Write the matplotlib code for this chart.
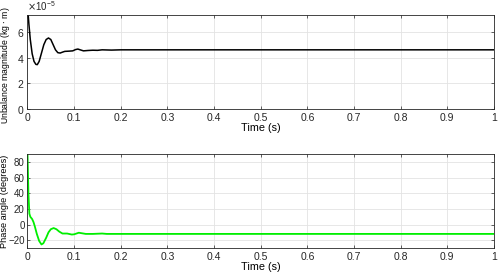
import matplotlib
matplotlib.use("Agg")
import matplotlib.pyplot as plt
from matplotlib.ticker import ScalarFormatter

plt.rcParams['font.family'] = ['Liberation Sans', 'DejaVu Sans']
plt.rcParams['font.size'] = 7.5

# unbalance magnitude (kg m) vs time (s)
t_mag = [0.0, 0.003, 0.006, 0.01, 0.014, 0.018, 0.021, 0.025, 0.03, 0.035,
         0.04, 0.045, 0.05, 0.055, 0.06, 0.065, 0.07, 0.075, 0.08, 0.09,
         0.097, 0.103, 0.108, 0.113, 0.12, 0.13, 0.14, 0.15, 0.16, 0.18,
         0.2, 0.25, 0.3, 0.4, 0.5, 0.6, 0.7, 0.8, 0.9, 1.0]
mag = [8.0, 6.6, 5.4, 4.3, 3.7, 3.47, 3.45, 3.7, 4.35, 5.0,
       5.4, 5.52, 5.4, 5.0, 4.6, 4.38, 4.35, 4.42, 4.48, 4.5,
       4.52, 4.62, 4.66, 4.6, 4.52, 4.55, 4.57, 4.56, 4.6, 4.58,
       4.6, 4.6, 4.6, 4.6, 4.6, 4.6, 4.6, 4.6, 4.6, 4.6]
mag = [m * 1e-5 for m in mag]

# phase angle (degrees) vs time (s)
t_ph = [0.0, 0.002, 0.004, 0.006, 0.01, 0.013, 0.016, 0.02, 0.025, 0.03,
        0.034, 0.04, 0.045, 0.05, 0.056, 0.062, 0.068, 0.075, 0.085, 0.095,
        0.1, 0.11, 0.115, 0.125, 0.14, 0.16, 0.17, 0.2, 0.3, 0.5, 0.7, 1.0]
phase = [92, 40, 14, 10, 7, 3, -3, -12, -21, -25.5,
         -24, -17, -10, -6, -4.5, -6, -9, -11.5, -11.5, -12.8,
         -12.5, -10.5, -11, -12, -12, -11.5, -12, -12, -12, -12, -12, -12]

fig = plt.figure(figsize=(4.98, 2.74), dpi=100)
ax1 = fig.add_axes([0.0552, 0.602, 0.9367, 0.343])
ax2 = fig.add_axes([0.0552, 0.095, 0.9367, 0.342])

ax1.plot(t_mag, mag, color='black', lw=1.1)
ax2.plot(t_ph, phase, color='#00ee00', lw=1.3)

for ax in (ax1, ax2):
    ax.set_xlim(0, 1)
    ax.set_xticks([i / 10 for i in range(11)])
    ax.set_xticklabels(['0', '0.1', '0.2', '0.3', '0.4', '0.5',
                        '0.6', '0.7', '0.8', '0.9', '1'])
    ax.grid(True, color='#e3e3e3', lw=0.6)
    ax.tick_params(direction='in', length=2.5, width=0.5, top=True, right=True,
                   colors='#262626', labelcolor='#262626', pad=3,
                   labelsize=7.5)
    ax.tick_params(axis='y', pad=2)
    for s in ax.spines.values():
        s.set_color('#262626')
        s.set_linewidth(0.6)
    ax.set_xlabel('Time (s)', labelpad=0, fontsize=7.8)

ax1.set_ylim(0, 7.3e-5)
ax1.set_yticks([0, 2e-5, 4e-5, 6e-5])
fmt = ScalarFormatter(useMathText=True)
fmt.set_powerlimits((0, 0))
ax1.yaxis.set_major_formatter(fmt)
ax1.yaxis.get_offset_text().set_fontsize(7)
ax1.set_ylabel('Unbalance magnitude (kg $\\cdot$ m)', fontsize=6.2)
ax1.yaxis.set_label_coords(-0.033, 0.47)

ax2.set_ylim(-30, 90)
ax2.set_yticks([-20, 0, 20, 40, 60, 80])
ax2.tick_params(axis='y', labelsize=7)
ax2.set_ylabel('Phase angle (degrees)', fontsize=6.6)
ax2.yaxis.set_label_coords(-0.04, 0.5)

fig.savefig('out.png', dpi=100)
